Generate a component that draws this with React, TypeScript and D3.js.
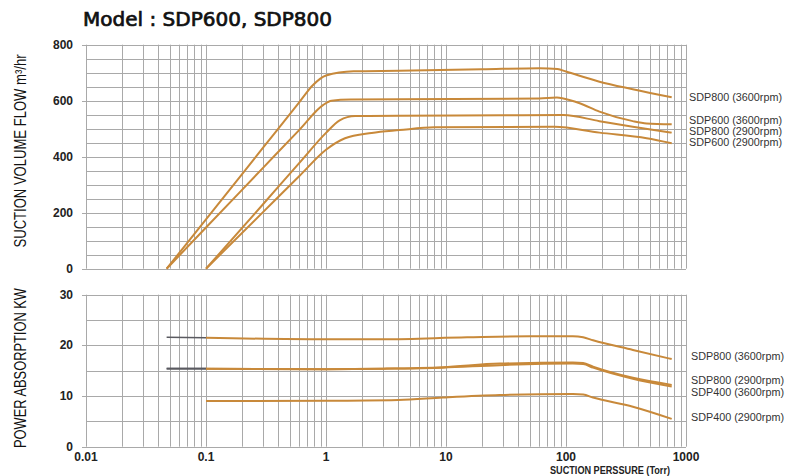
import React, { useEffect, useRef } from "react";
import * as d3 from "d3";

// pressure in Torr, flow in m3/hr, power in kW
const pressureTicks = [0.01, 0.1, 1, 10, 100, 1000];
const pressureTickLabels = ["0.01", "0.1", "1", "10", "100", "1000"];
const flowTicks = [0, 200, 400, 600, 800];
const powerTicks = [0, 10, 20, 30];

const flowNames = ["SDP800 (3600rpm)", "SDP600 (3600rpm)", "SDP800 (2900rpm)", "SDP600 (2900rpm)"];
const flowSdp800_3600 = [
  [0.047, 0], [0.1, 176], [0.3, 433], [0.6, 595], [0.78, 656], [1.0, 690], [1.7, 705], [4, 707],
  [20, 712], [60, 716], [85, 713], [100, 704], [190, 668], [360, 641], [760, 612],
];
const flowSdp600_3600 = [
  [0.047, 0], [0.1, 147], [0.3, 361], [0.6, 496], [0.95, 585], [1.11, 600], [1.6, 604], [4, 605],
  [60, 608], [84, 611], [95, 608], [130, 591], [190, 561], [360, 527], [470, 519], [760, 516],
];
const flowSdp800_2900 = [
  [0.1, 0], [0.3, 231], [0.6, 378], [1, 485], [1.3, 530], [1.75, 545], [4, 546], [30, 548],
  [95, 549], [190, 527], [360, 507], [760, 486],
];
const flowSdp600_2900 = [
  [0.1, 0], [0.3, 203], [0.6, 331], [1, 425], [1.44, 466], [2.4, 485], [4.1, 495], [8, 505],
  [80, 507], [190, 486], [470, 466], [760, 448],
];

const powerNames = ["SDP800 (3600rpm)", "SDP800 (2900rpm)", "SDP400 (3600rpm)", "SDP400 (2900rpm)"];
const powerSdp800_3600 = [
  [0.047, 21.6], [0.1, 21.5], [1, 21.2], [3, 21.2], [15, 21.6], [50, 21.8],
  [114, 21.8], [139, 21.6], [168, 21.0], [361, 19.1], [760, 17.3],
];
const powerSdp800_2900 = [
  [0.047, 15.4], [0.1, 15.4], [1, 15.3], [3, 15.4], [9.4, 15.7], [28, 16.4],
  [114, 16.6], [139, 16.5], [168, 15.8], [361, 13.6], [760, 12.2],
];
const powerSdp400_3600 = [
  [0.047, 15.4], [0.1, 15.4], [1, 15.3], [3, 15.4], [9.4, 15.6], [28, 16.1],
  [114, 16.4], [139, 16.3], [168, 15.6], [361, 13.4], [760, 11.9],
];
const powerSdp400_2900 = [
  [0.1, 9.0], [1, 9.05], [4, 9.2], [9.4, 9.7], [28, 10.2], [114, 10.4],
  [139, 10.3], [168, 9.7], [361, 7.9], [760, 5.5],
];

const App = () => {
  const svgRef = useRef<SVGSVGElement | null>(null);
  const w = 787;
  const h = 476;
  const m = { left: 86, right: 101 };
  const top = { y0: 44.7, y1: 268.7 };
  const bot = { y0: 294.7, y1: 446.7 };
  const orange = "#c8893a";
  const grid = "#a9a9a9";

  useEffect(() => {
    const svg = d3.select(svgRef.current);
    svg.selectAll("*").remove();

    const x = d3.scaleLog().domain([0.01, 1000]).range([m.left, w - m.right]);
    const yFlow = d3.scaleLinear().domain([0, 800]).range([top.y1, top.y0]);
    const yPower = d3.scaleLinear().domain([0, 30]).range([bot.y1, bot.y0]);

    // minor log grid values 1..9 per decade
    const gridX: number[] = [];
    for (let e = -2; e < 3; e++) {
      for (let k = 1; k < 10; k++) gridX.push(k * Math.pow(10, e));
    }
    gridX.push(1000);

    const drawPanel = (y: d3.ScaleLinear<number, number>, step: number, ticks: number[]) => {
      const g = svg.append("g");
      const [d0, d1] = y.domain();
      g.selectAll(".hg")
        .data(d3.range(d0, d1 + step / 2, step))
        .enter()
        .append("line")
        .attr("x1", x(0.01))
        .attr("x2", x(1000))
        .attr("y1", (d) => Math.round(y(d)) + 0.5)
        .attr("y2", (d) => Math.round(y(d)) + 0.5)
        .attr("stroke", grid)
        .attr("stroke-width", 1);
      g.selectAll(".vg")
        .data(gridX)
        .enter()
        .append("line")
        .attr("x1", (d) => Math.round(x(d)) + 0.5)
        .attr("x2", (d) => Math.round(x(d)) + 0.5)
        .attr("y1", y(d1))
        .attr("y2", y(d0))
        .attr("stroke", grid)
        .attr("stroke-width", 1);
      // small ticks + labels on the left
      g.selectAll(".yt")
        .data(ticks)
        .enter()
        .append("line")
        .attr("x1", x(0.01) - 4)
        .attr("x2", x(0.01))
        .attr("y1", (d) => Math.round(y(d)) + 0.5)
        .attr("y2", (d) => Math.round(y(d)) + 0.5)
        .attr("stroke", grid);
      g.selectAll(".yl")
        .data(ticks)
        .enter()
        .append("text")
        .attr("x", x(0.01) - 13)
        .attr("y", (d) => y(d) + 4)
        .attr("text-anchor", "end")
        .style("font-family", "Liberation Sans, Arial, sans-serif")
        .style("font-weight", "bold")
        .style("font-size", "12px")
        .attr("fill", "#222")
        .text((d) => d);
    };

    drawPanel(yFlow, 50, flowTicks);
    drawPanel(yPower, 5, powerTicks);

    const lineFlow = d3
      .line<number[]>()
      .x((d) => x(d[0]))
      .y((d) => yFlow(d[1]))
      .curve(d3.curveMonotoneX);
    const linePower = d3
      .line<number[]>()
      .x((d) => x(d[0]))
      .y((d) => yPower(d[1]))
      .curve(d3.curveMonotoneX);

    const flowSeries = [flowSdp800_3600, flowSdp600_3600, flowSdp800_2900, flowSdp600_2900];
    const powerSeries = [powerSdp800_3600, powerSdp800_2900, powerSdp400_3600, powerSdp400_2900];

    svg.append("g")
      .selectAll("path")
      .data(flowSeries)
      .enter()
      .append("path")
      .attr("d", (d) => lineFlow(d))
      .attr("fill", "none")
      .attr("stroke", orange)
      .attr("stroke-width", 2);

    // the power lines start grey up to 0.1 Torr, then orange
    const pg = svg.append("g");
    powerSeries.forEach((s) => {
      const head = s.filter((d) => d[0] <= 0.1);
      const rest = s.filter((d) => d[0] >= 0.1);
      if (head.length > 1) {
        pg.append("path")
          .attr("d", linePower(head))
          .attr("fill", "none")
          .attr("stroke", "#5a5a60")
          .attr("stroke-width", 1.6);
      }
      pg.append("path")
        .attr("d", linePower(rest))
        .attr("fill", "none")
        .attr("stroke", orange)
        .attr("stroke-width", 2);
    });

    // series labels at the right end of each line
    const labelStyle = (sel: any) =>
      sel
        .style("font-family", "Liberation Sans, Arial, sans-serif")
        .style("font-size", "10px")
        .attr("fill", "#333")
        .attr("textLength", 93)
        .attr("lengthAdjust", "spacingAndGlyphs")
        .attr("dominant-baseline", "middle");
    const flowNudge = [1, -2.5, 0, 0];
    flowNames.forEach((n, i) => {
      const s = flowSeries[i];
      labelStyle(svg.append("text"))
        .attr("x", 689)
        .attr("y", yFlow(s[s.length - 1][1]) + flowNudge[i])
        .text(n);
    });
    const powerNudge = [-2, -4, 7, 0];
    powerNames.forEach((n, i) => {
      const s = powerSeries[i];
      labelStyle(svg.append("text"))
        .attr("x", 691)
        .attr("y", yPower(s[s.length - 1][1]) + powerNudge[i])
        .text(n);
    });

    // x tick labels
    svg.append("g")
      .selectAll("text")
      .data(pressureTicks)
      .enter()
      .append("text")
      .attr("x", (d) => x(d))
      .attr("y", 461)
      .attr("text-anchor", "middle")
      .style("font-family", "Liberation Sans, Arial, sans-serif")
      .style("font-weight", "bold")
      .style("font-size", "12px")
      .attr("fill", "#222")
      .text((_, i) => pressureTickLabels[i]);

    svg.append("text")
      .attr("x", 610)
      .attr("y", 474)
      .attr("text-anchor", "middle")
      .attr("textLength", 120)
      .attr("lengthAdjust", "spacingAndGlyphs")
      .style("font-family", "Liberation Sans, Arial, sans-serif")
      .style("font-weight", "bold")
      .style("font-size", "11px")
      .attr("fill", "#222")
      .text("SUCTION PERSSURE (Torr)");

    // axis titles
    svg.append("text")
      .attr("transform", "translate(26,151) rotate(-90)")
      .attr("text-anchor", "middle")
      .attr("textLength", 193)
      .attr("lengthAdjust", "spacingAndGlyphs")
      .style("font-family", "Liberation Sans, Arial, sans-serif")
      .style("font-size", "16px")
      .attr("fill", "#111")
      .text("SUCTION VOLUME FLOW m³/hr");
    svg.append("text")
      .attr("transform", "translate(26,368) rotate(-90)")
      .attr("text-anchor", "middle")
      .attr("textLength", 160)
      .attr("lengthAdjust", "spacingAndGlyphs")
      .style("font-family", "Liberation Sans, Arial, sans-serif")
      .style("font-size", "16px")
      .attr("fill", "#111")
      .text("POWER ABSORPTION KW");

    // title
    svg.append("text")
      .attr("x", 83)
      .attr("y", 26)
      .attr("textLength", 249)
      .attr("lengthAdjust", "spacingAndGlyphs")
      .style("font-family", "DejaVu Sans, sans-serif")
      .style("font-size", "19px")
      .attr("fill", "#111")
      .attr("stroke", "#111")
      .attr("stroke-width", 0.7)
      .text("Model : SDP600, SDP800");
  }, []);

  return (
    <svg
      ref={svgRef}
      width={w}
      height={h}
      style={{ position: "absolute", left: 0, top: 0, background: "#fff" }}
    ></svg>
  );
};

export default App;
